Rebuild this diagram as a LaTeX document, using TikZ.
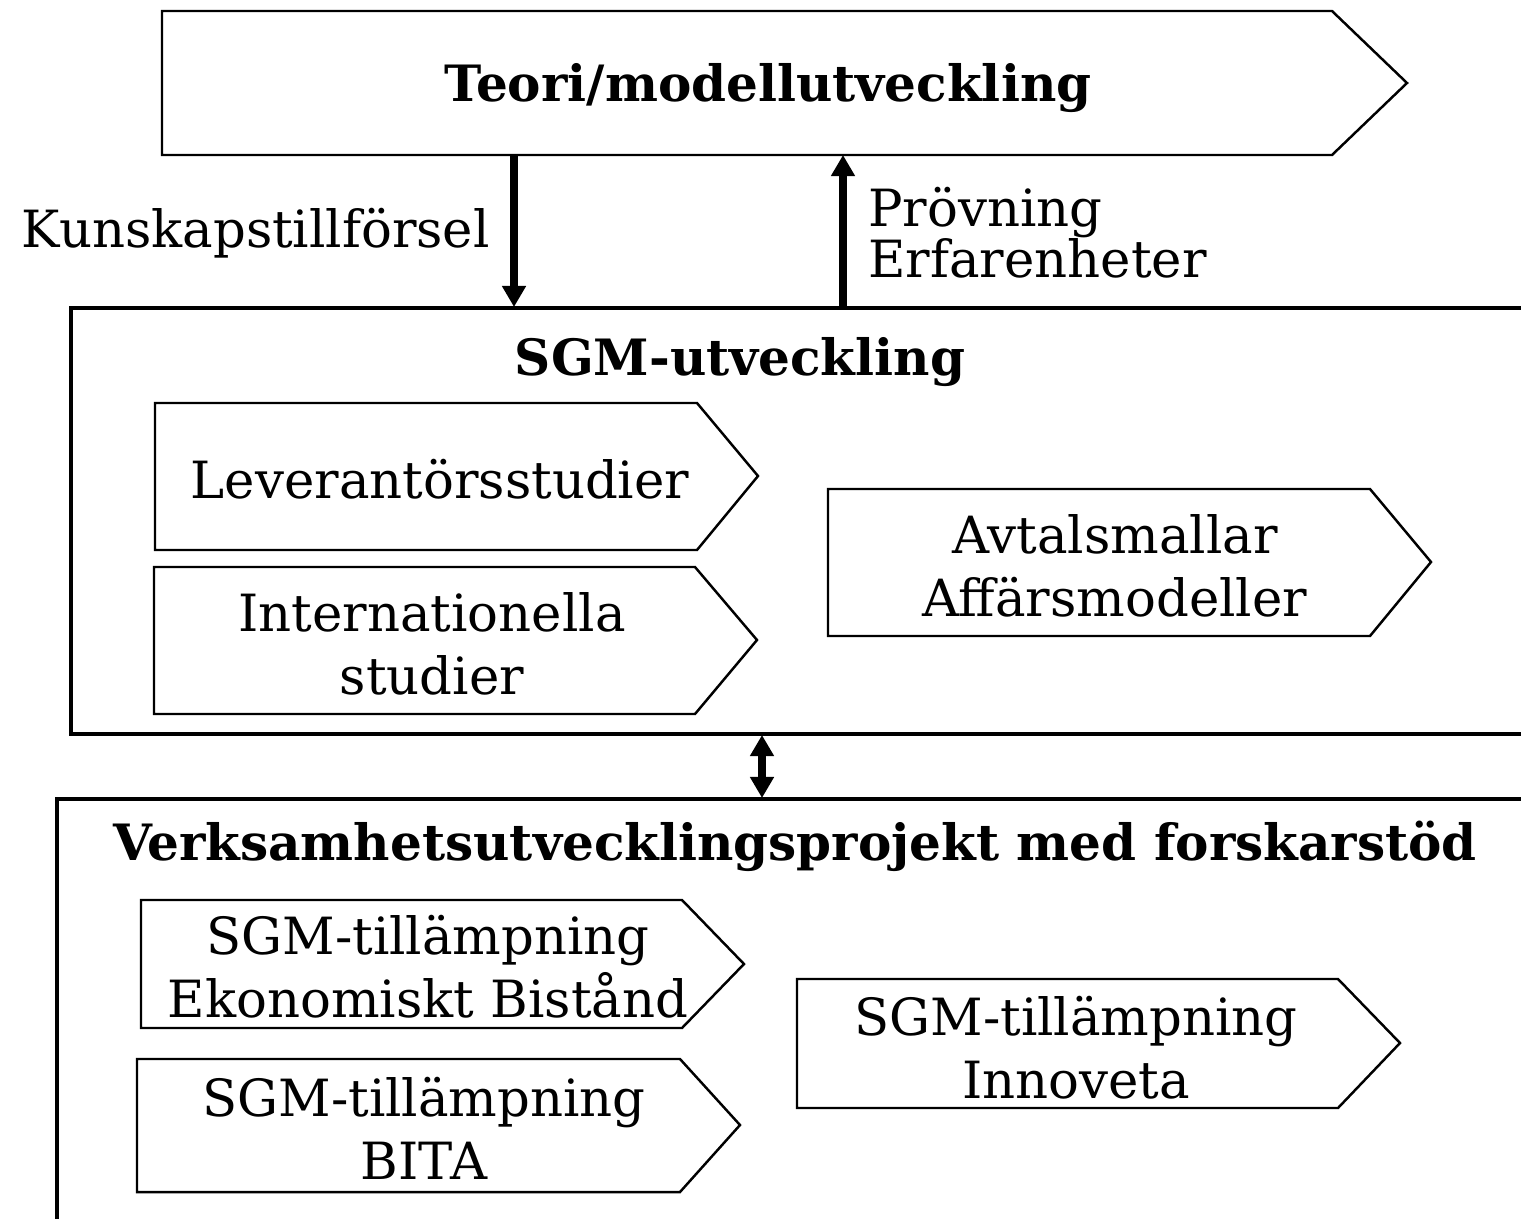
\documentclass[tikz,border=0pt]{standalone}
\usepackage{fontspec}
\setmainfont{DejaVu Serif}
\usetikzlibrary{arrows.meta}
\begin{document}
\begin{tikzpicture}[x=0.02cm,y=-0.02cm,
  pent/.style={draw, line width=1.4pt, line join=miter},
  frame/.style={draw, line width=1.9pt},
  lbl/.style={font=\fontsize{29.2}{36}\selectfont, align=center, inner sep=0pt},
  tight/.style={font=\fontsize{29.2}{29}\selectfont, align=left, inner sep=0pt},
  head/.style={font=\bfseries\fontsize{28.5}{36}\selectfont, inner sep=0pt},
  conn/.style={line width=4pt, -{Triangle[length=12pt,width=13pt]}},
  dconn/.style={line width=4pt, {Triangle[length=12pt,width=13pt]}-{Triangle[length=12pt,width=13pt]}}]
\useasboundingbox (0,0) rectangle (1521,1218);
\clip (0,0) rectangle (1521,1218);

% top pentagon
\draw[pent] (162,11) -- (1332,11) -- (1407,83) -- (1332,155) -- (162,155) -- cycle;
\node[head] (teori) at (768,88) {Teori/modellutveckling};

% SGM frame
\draw[frame] (1700,308) -- (71,308) -- (71,734) -- (1700,734);
\node[head] (sgm) at (740,362) {SGM-utveckling};

\draw[pent] (155,403) -- (697,403) -- (758,476) -- (697,550) -- (155,550) -- cycle;
\node[lbl] (lev) at (440,479) {Leverantörsstudier};
\draw[pent] (154,567) -- (695,567) -- (757,640) -- (695,714) -- (154,714) -- cycle;
\node[lbl] (int) at (432,644) {Internationella\\studier};
\draw[pent] (828,489) -- (1370,489) -- (1431,562) -- (1370,636) -- (828,636) -- cycle;
\node[lbl] (avt) at (1115,566) {Avtalsmallar\\Affärsmodeller};

% bottom frame
\draw[frame] (1700,799) -- (57,799) -- (57,1400);
\node[head] (verk) at (795,846) {Verksamhetsutvecklingsprojekt med forskarstöd};

\draw[pent] (141,900) -- (682,900) -- (744,964) -- (682,1028) -- (141,1028) -- cycle;
\node[lbl] (eko) at (428,967) {SGM-tillämpning\\Ekonomiskt Bistånd};
\draw[pent] (137,1059) -- (680,1059) -- (740,1125) -- (680,1192) -- (137,1192) -- cycle;
\node[lbl] (bita) at (424,1128) {SGM-tillämpning\\BITA};
\draw[pent] (797,979) -- (1338,979) -- (1400,1043) -- (1338,1108) -- (797,1108) -- cycle;
\node[lbl] (inno) at (1076,1048) {SGM-tillämpning\\Innoveta};

% connector end points
\coordinate (k1) at (514,155);
\coordinate (k2) at (514,307);
\coordinate (p1) at (843,307);
\coordinate (p2) at (843,155);
\coordinate (d1) at (762,735);
\coordinate (d2) at (762,798);

\draw[conn] (k1) -- (k2);
\draw[conn] (p1) -- (p2);
\draw[dconn] (d1) -- (d2);

\node[lbl, anchor=east] (kun) at (490,233) {Kunskapstillförsel};
\node[tight, anchor=west] (prov) at (868,233) {Prövning\\Erfarenheter};
\end{tikzpicture}
\end{document}
